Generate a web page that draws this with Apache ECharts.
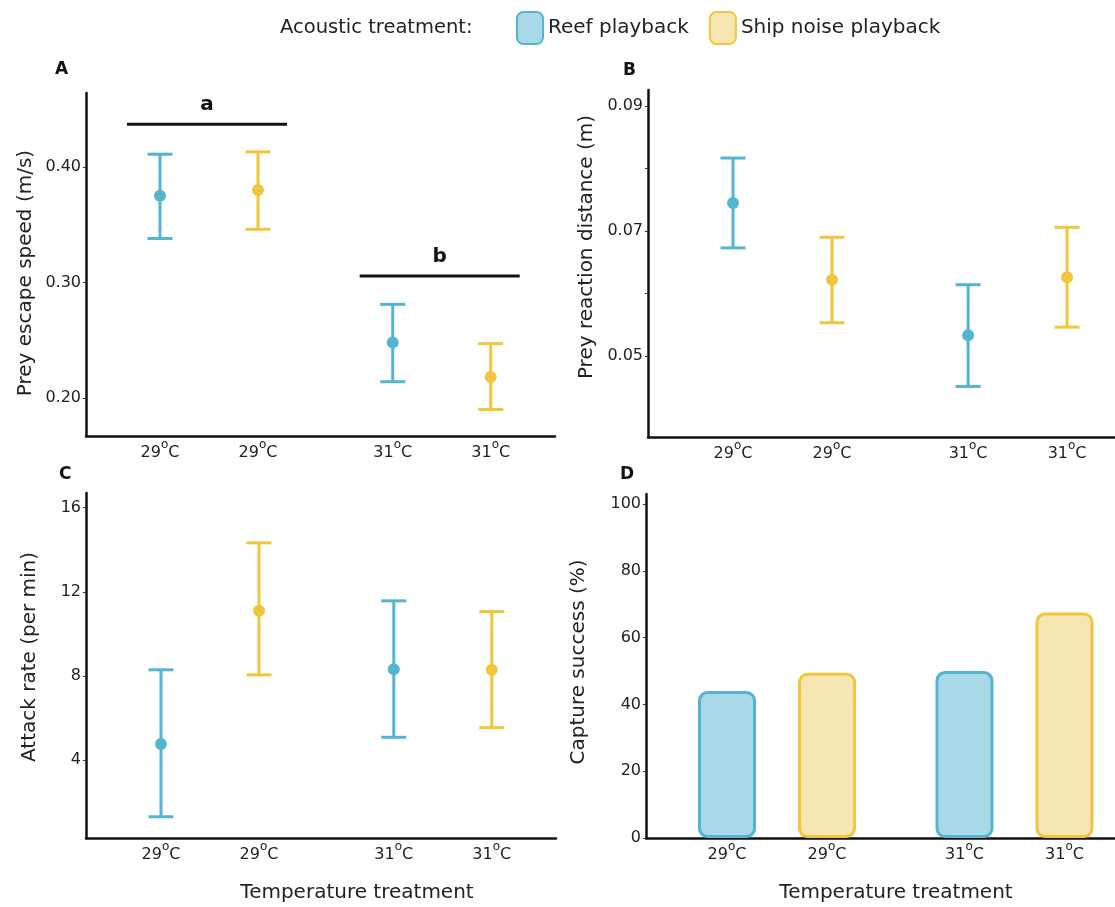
<!DOCTYPE html>
<html><head><meta charset="utf-8">
<script src="https://cdn.jsdelivr.net/npm/echarts@6/dist/echarts.min.js"></script>
<style>html,body{margin:0;padding:0;background:#fff}#c{width:1115px;height:907px}</style>
</head><body><div id="c"></div>
<script>
// ---------- data ----------
const temperatures = ['29', '29', '31', '31'];
const treatments = ['Reef playback', 'Ship noise playback', 'Reef playback', 'Ship noise playback'];
const legendNames = ['Reef playback', 'Ship noise playback'];
const legendTitle = 'Acoustic treatment:';
const panelLetters = ['A', 'B', 'C', 'D'];
const xTitle = 'Temperature treatment';

// A: prey escape speed
const speedMean = [0.375, 0.380, 0.248, 0.218];
const speedLow  = [0.338, 0.346, 0.214, 0.190];
const speedHigh = [0.411, 0.413, 0.281, 0.247];
const speedLabels = [0.20, 0.30, 0.40];
const sigLetters = ['a', 'b'];
const sigHeights = [0.437, 0.3055];
const sigColumns = [[0, 1], [2, 3]];

// B: prey reaction distance
const distMean = [0.0745, 0.0622, 0.0533, 0.0626];
const distLow  = [0.0673, 0.0553, 0.0451, 0.0546];
const distHigh = [0.0817, 0.0690, 0.0614, 0.0706];
const distLabels = [0.05, 0.07, 0.09];
const distTicks = [0.05, 0.06, 0.07, 0.08, 0.09];

// C: attack rate
const attackMean = [4.76, 11.1, 8.32, 8.29];
const attackLow  = [1.3, 8.05, 5.08, 5.54];
const attackHigh = [8.29, 14.33, 11.57, 11.06];
const attackLabels = [4, 8, 12, 16];

// D: capture success
const captureSuccess = [44, 49.5, 50, 67.5];
const captureLabels = [0, 20, 40, 60, 80, 100];

// ---------- styling / layout ----------
const FONT = 'DejaVu Sans';
const TXT = '#222';
const lineColor = {'Reef playback': '#55b5d0', 'Ship noise playback': '#efc63c'};
const fillColor = {'Reef playback': '#a9d9e6', 'Ship noise playback': '#f6e6b2'};
const groupGap = 0.375;
const positions = temperatures.map((_, i) => i + (i >= 2 ? groupGap : 0));
function colOf(v) {
  let best = 0;
  positions.forEach((p, i) => { if (Math.abs(p - v) < Math.abs(positions[best] - v)) best = i; });
  return best;
}

function xAxisFor(gi, min, max, name, namePad) {
  return {
    type: 'value', gridIndex: gi, min: min, max: max,
    axisLine: {show: true, onZero: false, lineStyle: {color: '#111', width: 2.5}},
    axisTick: {show: false}, splitLine: {show: false},
    axisLabel: {
      customValues: positions, margin: 3,
      formatter: v => '{n|' + temperatures[colOf(v)] + '}{s|o}{n|C}',
      rich: {
        n: {fontSize: 16, lineHeight: 28, fontFamily: FONT, color: TXT},
        s: {fontSize: 12, lineHeight: 12, verticalAlign: 'top', fontFamily: FONT, color: TXT}
      }
    },
    name: name || '', nameLocation: 'middle', nameGap: 45,
    nameTextStyle: {fontSize: 20, fontFamily: FONT, color: TXT, padding: [0, 0, 0, namePad || 0]}
  };
}
function yAxisFor(gi, min, max, labels, ticks, fmt, name, gap, pad) {
  return {
    type: 'value', gridIndex: gi, min: min, max: max,
    axisLine: {show: true, onZero: false, lineStyle: {color: '#111', width: 2.5}},
    axisTick: {show: true, length: 3, customValues: ticks, lineStyle: {color: '#333', width: 1}},
    axisLabel: {customValues: labels, margin: 5, formatter: fmt, fontSize: 16, fontFamily: FONT, color: TXT},
    splitLine: {show: false},
    name: name, nameLocation: 'middle', nameGap: gap,
    nameTextStyle: {fontSize: 20, fontFamily: FONT, color: TXT, padding: pad}
  };
}

function errorBarRender(params, api) {
  const x = api.value(0);
  const lo = api.coord([x, api.value(1)]);
  const hi = api.coord([x, api.value(2)]);
  const color = lineColor[treatments[api.value(3)]];
  const hw = 12.5;
  const style = {stroke: color, lineWidth: 3, fill: null};
  return {type: 'group', children: [
    {type: 'line', shape: {x1: lo[0], y1: lo[1], x2: hi[0], y2: hi[1]}, style: style},
    {type: 'line', shape: {x1: hi[0] - hw, y1: hi[1], x2: hi[0] + hw, y2: hi[1]}, style: style},
    {type: 'line', shape: {x1: lo[0] - hw, y1: lo[1], x2: lo[0] + hw, y2: lo[1]}, style: style}
  ]};
}
function errSeries(gi, low, high) {
  return {type: 'custom', xAxisIndex: gi, yAxisIndex: gi, silent: true, renderItem: errorBarRender,
    encode: {x: 0, y: [1, 2]}, data: low.map((l, i) => [positions[i], l, high[i], i]), z: 3};
}
function meanSeries(gi, means) {
  return {type: 'scatter', xAxisIndex: gi, yAxisIndex: gi, symbolSize: 12, silent: true, z: 5,
    data: means.map((m, i) => ({value: [positions[i], m], itemStyle: {color: lineColor[treatments[i]], opacity: 1}}))};
}
function sigRender(params, api) {
  const y = api.value(2);
  const p1 = api.coord([api.value(0), y]);
  const p2 = api.coord([api.value(1), y]);
  const letter = sigLetters[api.value(3)];
  return {type: 'group', children: [
    {type: 'line', shape: {x1: p1[0], y1: p1[1], x2: p2[0], y2: p2[1]}, style: {stroke: '#111', lineWidth: 3}},
    {type: 'text', x: (p1[0] + p2[0]) / 2, y: p1[1] - 9,
      style: {text: letter, font: 'bold 20px "DejaVu Sans"', fill: '#111', align: 'center', verticalAlign: 'bottom',
        textAlign: 'center', textVerticalAlign: 'bottom'}}
  ]};
}

const barSeries = legendNames.map(name => ({
  type: 'bar', name: name, xAxisIndex: 3, yAxisIndex: 3, barWidth: 58, barGap: '-100%', silent: true,
  itemStyle: {color: fillColor[name], borderColor: lineColor[name], borderWidth: 3, borderRadius: 8},
  data: captureSuccess.map((v, i) => treatments[i] === name ? [positions[i], v] : null).filter(d => d)
}));

const letterPos = [[55, 61], [623, 62], [59, 466], [620, 466]];

const option = {
  animation: false,
  backgroundColor: '#fff',
  textStyle: {fontFamily: FONT},
  title: [{text: legendTitle, left: 280, top: 18, padding: 0,
      textStyle: {fontSize: 19.5, fontWeight: 'normal', fontFamily: FONT, color: TXT}}]
    .concat(panelLetters.map((l, k) => ({text: l, left: letterPos[k][0], top: letterPos[k][1], padding: 0,
      textStyle: {fontSize: 17, fontWeight: 'bold', fontFamily: FONT, color: '#111'}}))),
  legend: {data: legendNames, left: 516, top: 11, padding: 0, itemWidth: 26, itemHeight: 32, itemGap: 20, icon: 'roundRect',
    selectedMode: false, textStyle: {fontSize: 20, fontFamily: FONT, color: TXT, padding: [2, 0, 0, 0]}},
  grid: [
    {left: 86, top: 93, width: 469, height: 343},
    {left: 648, top: 90, width: 467, height: 347},
    {left: 86, top: 493, width: 470, height: 345},
    {left: 646, top: 494, width: 469, height: 344}
  ],
  xAxis: [
    xAxisFor(0, -0.755, 4.031),
    xAxisFor(1, -0.859, 3.859),
    xAxisFor(2, -0.765, 4.03, xTitle, 72),
    xAxisFor(3, -0.81, 3.88, xTitle, 31)
  ],
  yAxis: [
    yAxisFor(0, 0.167, 0.464, speedLabels, speedLabels, v => v.toFixed(2), 'Prey escape speed (m/s)', 50, [0, 17, 0, 0]),
    yAxisFor(1, 0.037, 0.0926, distLabels, distTicks, v => v.toFixed(2), 'Prey reaction distance (m)', 51, [0, 0, 0, 33]),
    yAxisFor(2, 0.29, 16.7, attackLabels, attackLabels, v => String(v), 'Attack rate (per min)', 46, [0, 0, 0, 17]),
    yAxisFor(3, 0, 103, captureLabels, captureLabels, v => String(v), 'Capture success (%)', 57, [0, 0, 0, 8])
  ],
  series: [
    errSeries(0, speedLow, speedHigh), meanSeries(0, speedMean),
    {type: 'custom', xAxisIndex: 0, yAxisIndex: 0, silent: true, renderItem: sigRender, encode: {x: [0, 1], y: 2},
      data: sigLetters.map((l, k) => [positions[sigColumns[k][0]] - 0.337, positions[sigColumns[k][1]] + 0.296, sigHeights[k], k])},
    errSeries(1, distLow, distHigh), meanSeries(1, distMean),
    errSeries(2, attackLow, attackHigh), meanSeries(2, attackMean)
  ].concat(barSeries)
};

const chart = echarts.init(document.getElementById('c'), null, {renderer: 'canvas'});
chart.setOption(option);
</script>
</body></html>
